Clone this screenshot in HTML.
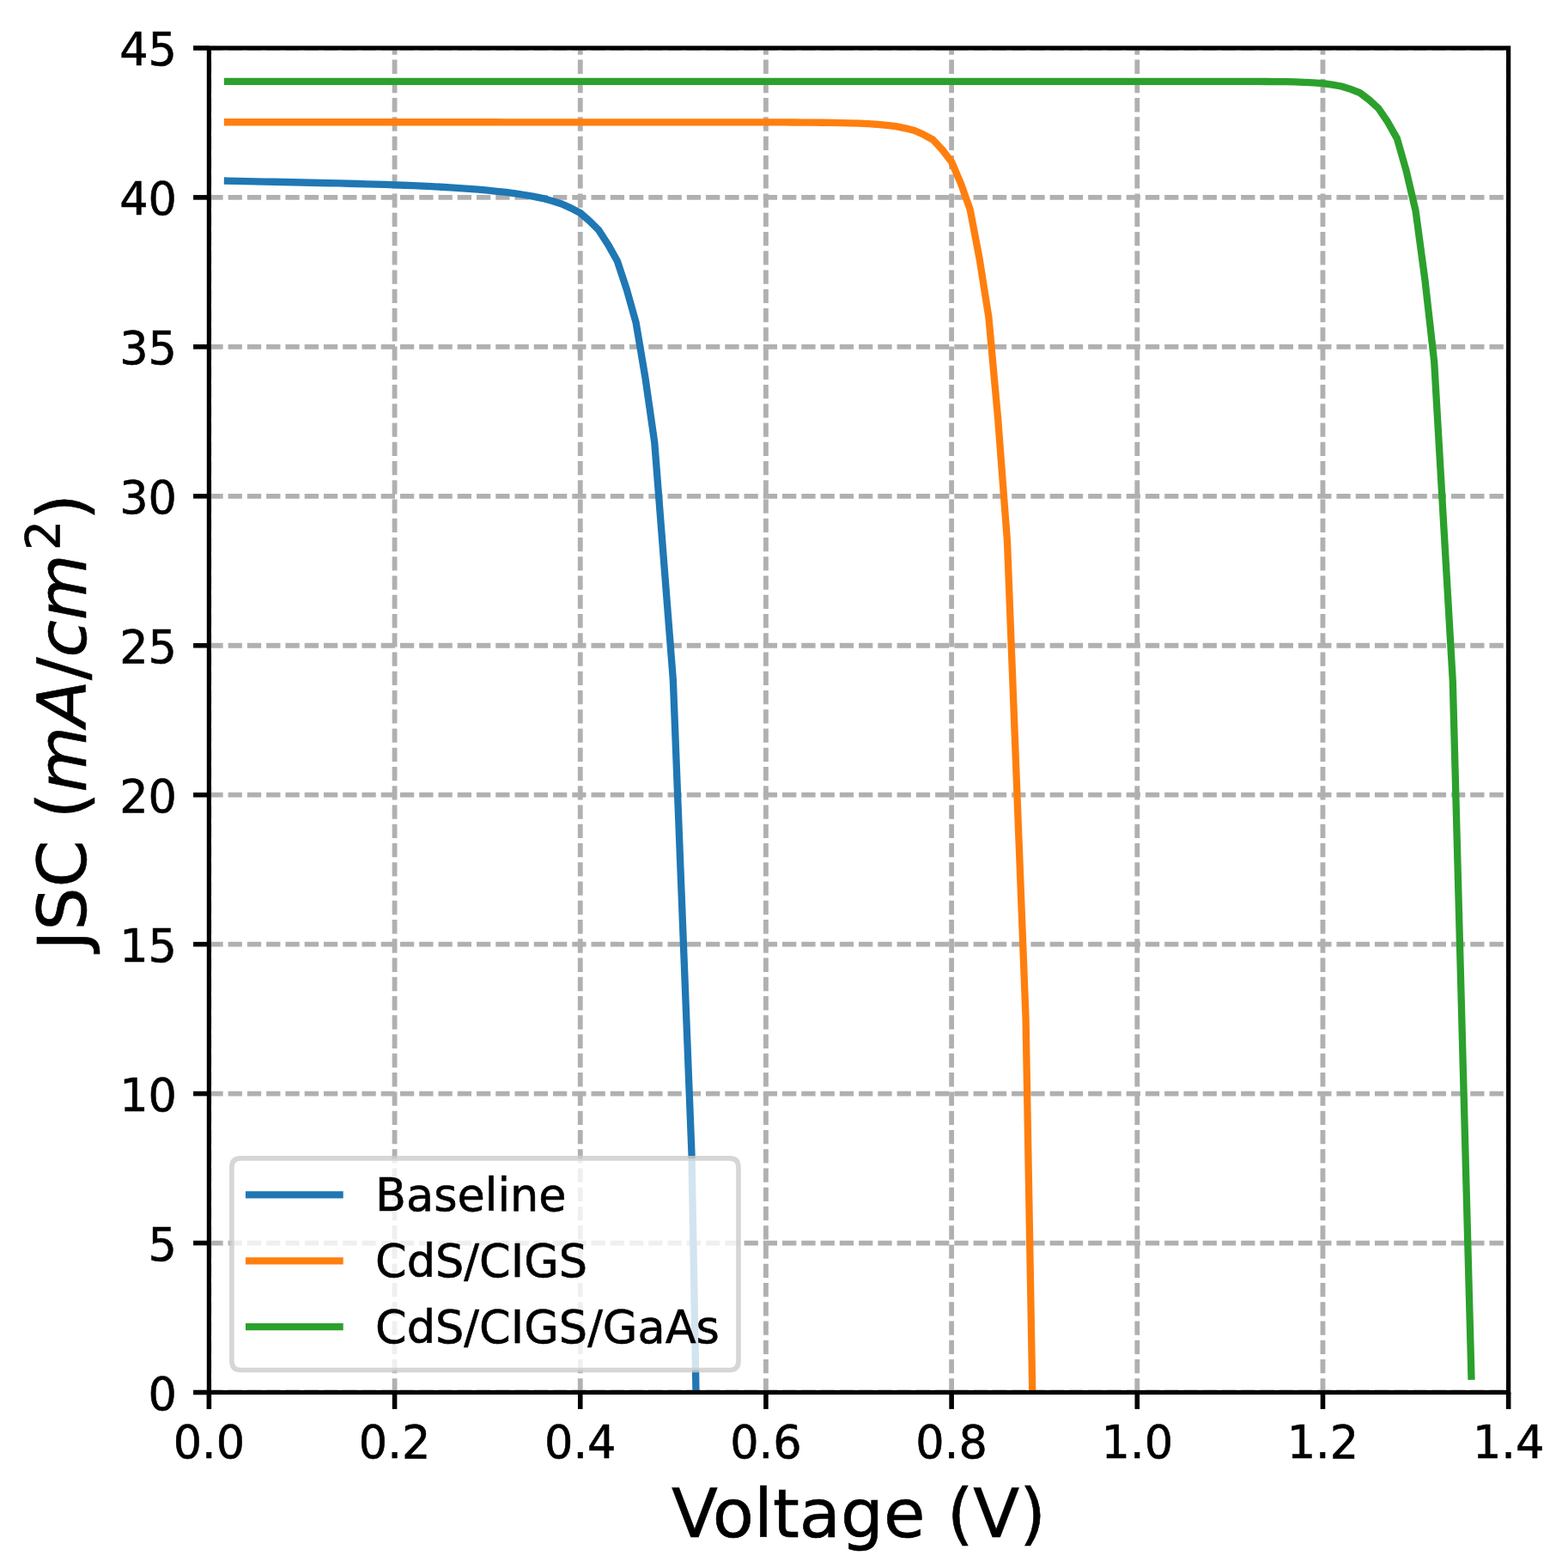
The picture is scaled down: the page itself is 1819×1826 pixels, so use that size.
<!DOCTYPE html>
<html><head><meta charset="utf-8"><title>JSC vs Voltage</title>
<style>
html,body{margin:0;padding:0;background:#fff;}
svg{display:block;}
text{font-family:"DejaVu Sans","Liberation Sans",sans-serif;fill:#000;stroke:#000;stroke-width:0.6px;}
</style></head><body>
<svg width="1819" height="1826" viewBox="0 0 1819 1826">
<rect x="0" y="0" width="1819" height="1826" fill="#ffffff"/>
<defs><clipPath id="ax"><rect x="243.40" y="55.95" width="1513.26" height="1565.55"/></clipPath></defs>
<g stroke="#b0b0b0" stroke-width="5.8" stroke-dasharray="16.3 5.955" fill="none" clip-path="url(#ax)">
<line x1="243.40" y1="1621.50" x2="243.40" y2="55.95"/>
<line x1="459.58" y1="1621.50" x2="459.58" y2="55.95"/>
<line x1="675.76" y1="1621.50" x2="675.76" y2="55.95"/>
<line x1="891.94" y1="1621.50" x2="891.94" y2="55.95"/>
<line x1="1108.12" y1="1621.50" x2="1108.12" y2="55.95"/>
<line x1="1324.30" y1="1621.50" x2="1324.30" y2="55.95"/>
<line x1="1540.48" y1="1621.50" x2="1540.48" y2="55.95"/>
<line x1="1756.66" y1="1621.50" x2="1756.66" y2="55.95"/>
<line x1="243.40" y1="1621.50" x2="1756.66" y2="1621.50"/>
<line x1="243.40" y1="1447.55" x2="1756.66" y2="1447.55"/>
<line x1="243.40" y1="1273.60" x2="1756.66" y2="1273.60"/>
<line x1="243.40" y1="1099.65" x2="1756.66" y2="1099.65"/>
<line x1="243.40" y1="925.70" x2="1756.66" y2="925.70"/>
<line x1="243.40" y1="751.75" x2="1756.66" y2="751.75"/>
<line x1="243.40" y1="577.80" x2="1756.66" y2="577.80"/>
<line x1="243.40" y1="403.85" x2="1756.66" y2="403.85"/>
<line x1="243.40" y1="229.90" x2="1756.66" y2="229.90"/>
<line x1="243.40" y1="55.95" x2="1756.66" y2="55.95"/>
</g>
<g fill="none" stroke-width="8.3" stroke-linecap="square" stroke-linejoin="round" clip-path="url(#ax)">
<path stroke="#1f77b4" d="M265.02,210.59 L275.83,210.82 L286.64,211.05 L297.44,211.29 L308.25,211.53 L319.06,211.77 L329.87,212.01 L340.68,212.26 L351.49,212.51 L362.30,212.75 L373.11,212.99 L383.92,213.23 L394.73,213.47 L405.54,213.73 L416.34,213.99 L427.15,214.28 L437.96,214.59 L448.77,214.95 L459.58,215.32 L470.39,215.75 L481.20,216.19 L492.01,216.68 L502.82,217.19 L513.62,217.76 L524.43,218.36 L535.24,219.07 L546.05,219.81 L556.86,220.70 L567.67,221.65 L578.48,222.78 L589.29,223.99 L600.10,225.43 L610.91,226.99 L621.72,228.95 L632.52,231.07 L643.33,234.13 L654.14,237.55 L664.95,242.41 L675.76,247.99 L686.57,257.32 L697.38,268.17 L708.19,284.88 L719.00,304.35 L729.81,337.11 L740.61,375.67 L751.42,439.73 L762.23,515.18 L783.85,791.76 L805.47,1343.18 L827.09,2536.48"/>
<path stroke="#ff7f0e" d="M265.02,142.23 L275.83,142.23 L286.64,142.23 L297.44,142.23 L308.25,142.23 L319.06,142.23 L329.87,142.23 L340.68,142.23 L351.49,142.23 L362.30,142.23 L373.11,142.24 L383.92,142.24 L394.73,142.24 L405.54,142.24 L416.34,142.24 L427.15,142.24 L437.96,142.24 L448.77,142.25 L459.58,142.25 L470.39,142.25 L481.20,142.25 L492.01,142.25 L502.82,142.26 L513.62,142.26 L524.43,142.26 L535.24,142.26 L546.05,142.27 L556.86,142.27 L567.67,142.27 L578.48,142.27 L589.29,142.28 L600.10,142.28 L610.91,142.28 L621.72,142.28 L632.52,142.29 L643.33,142.29 L654.14,142.29 L664.95,142.30 L675.76,142.30 L686.57,142.30 L697.38,142.30 L708.19,142.31 L719.00,142.31 L729.81,142.31 L740.61,142.32 L751.42,142.32 L762.23,142.32 L773.04,142.33 L783.85,142.33 L794.66,142.33 L805.47,142.34 L816.28,142.35 L827.09,142.35 L837.90,142.36 L848.70,142.37 L859.51,142.37 L870.32,142.38 L881.13,142.39 L891.94,142.40 L902.75,142.43 L913.56,142.46 L924.37,142.52 L935.18,142.58 L945.99,142.66 L956.79,142.75 L967.60,142.89 L978.41,143.06 L989.22,143.33 L1000.03,143.62 L1010.84,144.17 L1021.65,144.84 L1032.46,145.88 L1043.27,147.10 L1054.08,149.31 L1064.88,151.97 L1075.69,156.83 L1086.50,162.76 L1097.31,174.38 L1108.12,188.50 L1118.93,213.72 L1129.74,244.16 L1140.55,300.87 L1151.36,369.06 L1162.17,487.87 L1172.97,629.99 L1194.59,1186.62 L1216.21,2411.23"/>
<path stroke="#2ca02c" d="M265.02,94.91 L275.83,94.91 L286.64,94.91 L297.44,94.91 L308.25,94.91 L319.06,94.91 L329.87,94.91 L340.68,94.91 L351.49,94.91 L362.30,94.91 L373.11,94.91 L383.92,94.91 L394.73,94.91 L405.54,94.91 L416.34,94.91 L427.15,94.91 L437.96,94.91 L448.77,94.91 L459.58,94.91 L470.39,94.91 L481.20,94.91 L492.01,94.91 L502.82,94.91 L513.62,94.91 L524.43,94.91 L535.24,94.91 L546.05,94.91 L556.86,94.91 L567.67,94.91 L578.48,94.91 L589.29,94.91 L600.10,94.91 L610.91,94.91 L621.72,94.91 L632.52,94.91 L643.33,94.91 L654.14,94.91 L664.95,94.91 L675.76,94.91 L686.57,94.91 L697.38,94.91 L708.19,94.91 L719.00,94.91 L729.81,94.91 L740.61,94.91 L751.42,94.91 L762.23,94.91 L773.04,94.91 L783.85,94.91 L794.66,94.91 L805.47,94.91 L816.28,94.91 L827.09,94.91 L837.90,94.91 L848.70,94.91 L859.51,94.91 L870.32,94.91 L881.13,94.91 L891.94,94.91 L902.75,94.91 L913.56,94.91 L924.37,94.91 L935.18,94.91 L945.99,94.91 L956.79,94.91 L967.60,94.91 L978.41,94.91 L989.22,94.91 L1000.03,94.91 L1010.84,94.91 L1021.65,94.91 L1032.46,94.91 L1043.27,94.91 L1054.08,94.91 L1064.88,94.91 L1075.69,94.91 L1086.50,94.91 L1097.31,94.91 L1108.12,94.91 L1118.93,94.91 L1129.74,94.91 L1140.55,94.91 L1151.36,94.91 L1162.17,94.91 L1172.97,94.91 L1183.78,94.91 L1194.59,94.91 L1205.40,94.91 L1216.21,94.91 L1227.02,94.91 L1237.83,94.91 L1248.64,94.91 L1259.45,94.91 L1270.26,94.91 L1281.06,94.91 L1291.87,94.91 L1302.68,94.91 L1313.49,94.91 L1324.30,94.91 L1335.11,94.91 L1345.92,94.91 L1356.73,94.91 L1367.54,94.91 L1378.35,94.91 L1389.15,94.91 L1399.96,94.91 L1410.77,94.91 L1421.58,94.91 L1432.39,94.91 L1443.20,94.92 L1454.01,94.93 L1464.82,94.96 L1475.63,94.98 L1486.44,95.07 L1497.24,95.19 L1508.05,95.46 L1518.86,95.78 L1529.67,96.41 L1540.48,97.18 L1551.29,98.66 L1562.10,100.48 L1572.91,103.92 L1583.72,108.13 L1594.53,116.36 L1605.33,126.23 L1616.14,142.19 L1626.95,161.36 L1637.76,199.44 L1648.57,245.56 L1659.38,325.59 L1670.19,421.25 L1691.81,793.85 L1713.42,1602.71"/>
</g>
<rect x="243.40" y="55.95" width="1513.26" height="1565.55" fill="none" stroke="#000" stroke-width="5.2" stroke-linejoin="miter"/>
<g stroke="#000" stroke-width="5.6">
<line x1="243.40" y1="1621.50" x2="243.40" y2="1640.9"/>
<line x1="459.58" y1="1621.50" x2="459.58" y2="1640.9"/>
<line x1="675.76" y1="1621.50" x2="675.76" y2="1640.9"/>
<line x1="891.94" y1="1621.50" x2="891.94" y2="1640.9"/>
<line x1="1108.12" y1="1621.50" x2="1108.12" y2="1640.9"/>
<line x1="1324.30" y1="1621.50" x2="1324.30" y2="1640.9"/>
<line x1="1540.48" y1="1621.50" x2="1540.48" y2="1640.9"/>
<line x1="1756.66" y1="1621.50" x2="1756.66" y2="1640.9"/>
<line x1="225.1" y1="1621.50" x2="243.40" y2="1621.50"/>
<line x1="225.1" y1="1447.55" x2="243.40" y2="1447.55"/>
<line x1="225.1" y1="1273.60" x2="243.40" y2="1273.60"/>
<line x1="225.1" y1="1099.65" x2="243.40" y2="1099.65"/>
<line x1="225.1" y1="925.70" x2="243.40" y2="925.70"/>
<line x1="225.1" y1="751.75" x2="243.40" y2="751.75"/>
<line x1="225.1" y1="577.80" x2="243.40" y2="577.80"/>
<line x1="225.1" y1="403.85" x2="243.40" y2="403.85"/>
<line x1="225.1" y1="229.90" x2="243.40" y2="229.90"/>
<line x1="225.1" y1="55.95" x2="243.40" y2="55.95"/>
</g>
<g font-size="52.5" text-anchor="middle">
<text x="243.40" y="1698.3">0.0</text>
<text x="459.58" y="1698.3">0.2</text>
<text x="675.76" y="1698.3">0.4</text>
<text x="891.94" y="1698.3">0.6</text>
<text x="1108.12" y="1698.3">0.8</text>
<text x="1324.30" y="1698.3">1.0</text>
<text x="1540.48" y="1698.3">1.2</text>
<text x="1756.66" y="1698.3">1.4</text>
</g>
<g font-size="52.5" text-anchor="end">
<text x="206.0" y="1642.10">0</text>
<text x="206.0" y="1468.15">5</text>
<text x="206.0" y="1294.20">10</text>
<text x="206.0" y="1120.25">15</text>
<text x="206.0" y="946.30">20</text>
<text x="206.0" y="772.35">25</text>
<text x="206.0" y="598.40">30</text>
<text x="206.0" y="424.45">35</text>
<text x="206.0" y="249.70">40</text>
<text x="206.0" y="75.75">45</text>
</g>
<text x="1000.03" y="1789.8" font-size="78.8" text-anchor="middle">Voltage (V)</text>
<text transform="translate(100.3,840.93) rotate(-90)" x="0" y="0" font-size="78.8" text-anchor="middle">JSC (<tspan font-style="italic">mA</tspan>/<tspan font-style="italic">cm</tspan><tspan font-size="55.2" dx="4.4" dy="-31">2</tspan><tspan dy="31">)</tspan></text>
<path d="M280.4,1348.9 L849.5,1348.9 Q860.0,1348.9 860.0,1359.4 L860.0,1585.0 Q860.0,1595.5 849.5,1595.5 L280.4,1595.5 Q269.9,1595.5 269.9,1585.0 L269.9,1359.4 Q269.9,1348.9 280.4,1348.9 Z" fill="#ffffff" fill-opacity="0.8" stroke="#cccccc" stroke-opacity="0.8" stroke-width="5.6" stroke-linejoin="miter"/>
<line x1="286.0" y1="1391.4" x2="399.7" y2="1391.4" stroke="#1f77b4" stroke-width="8.3"/>
<text x="437.0" y="1409.6" font-size="52.5">Baseline</text>
<line x1="286.0" y1="1468.3" x2="399.7" y2="1468.3" stroke="#ff7f0e" stroke-width="8.3"/>
<text x="437.0" y="1486.6" font-size="52.5">CdS/CIGS</text>
<line x1="286.0" y1="1545.2" x2="399.7" y2="1545.2" stroke="#2ca02c" stroke-width="8.3"/>
<text x="437.0" y="1563.5" font-size="52.5">CdS/CIGS/GaAs</text>
</svg>
</body></html>
